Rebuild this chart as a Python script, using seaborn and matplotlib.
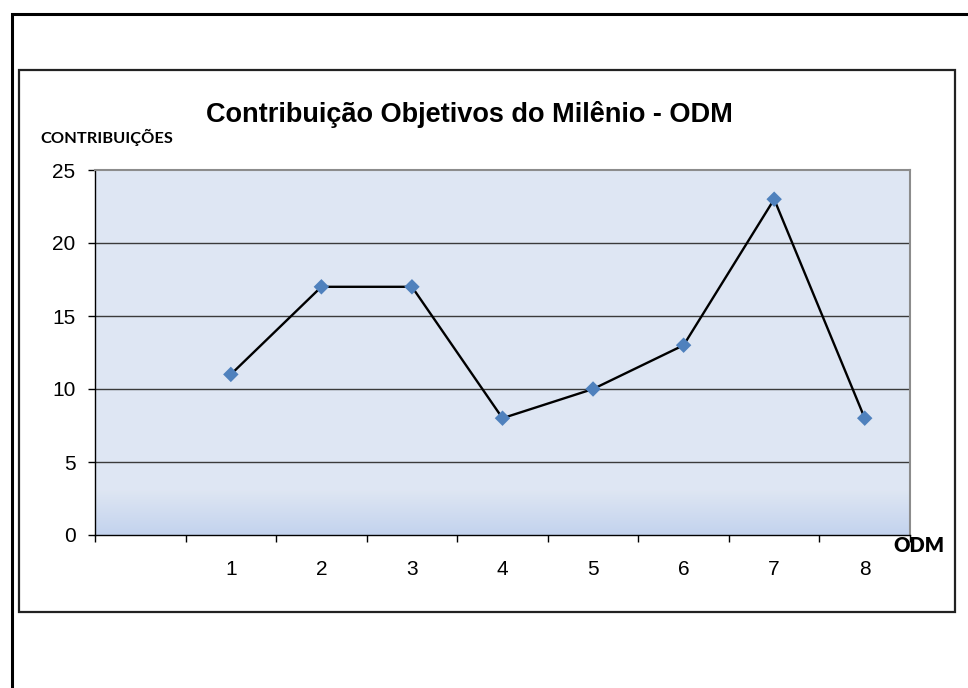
import numpy as np
import pandas as pd
import matplotlib
matplotlib.use("Agg")
import matplotlib.pyplot as plt
from matplotlib.patches import Rectangle
import seaborn as sns

# Data
odm = [1, 2, 3, 4, 5, 6, 7, 8]
contribuicoes = [11, 17, 17, 8, 10, 13, 23, 8]
tick_labels = ["1", "2", "3", "4", "5", "6", "7", "8"]

df = pd.DataFrame({"ODM": odm, "Contribuicoes": contribuicoes})

sns.set_style("white", {"text.color": "black", "xtick.color": "black", "ytick.color": "black",
                        "xtick.bottom": True, "ytick.left": True})
plt.rcParams["font.family"] = ["Liberation Sans", "DejaVu Sans"]

W, H = 968, 688
fig = plt.figure(figsize=(W / 100, H / 100), dpi=100)

# outer and inner frames
fig.patches.append(Rectangle((12 / W, -0.1), 2, 1 - 14 / H + 0.1, transform=fig.transFigure,
                             fill=False, edgecolor="black", linewidth=2.2))
fig.patches.append(Rectangle((19 / W, 1 - 612 / H), (955 - 19) / W, (612 - 70) / H,
                             transform=fig.transFigure, fill=False, edgecolor="#222222", linewidth=1.6))

ax = fig.add_axes([95 / W, 1 - 535 / H, (910 - 95) / W, (535 - 170) / H])

# gradient background
grad = np.ones((200, 1, 3))
top = np.array([0.871, 0.902, 0.953])
bottom = np.array([0.765, 0.827, 0.933])
yy = np.linspace(25, 0, 200)
t = np.clip((3.0 - yy) / 3.0, 0, 1)[:, None]
grad[:, 0, :] = top * (1 - t) + bottom * t
ax.imshow(grad, extent=[-0.5, 8.5, 0, 25], aspect="auto", zorder=0)

for v in [5, 10, 15, 20]:
    ax.axhline(v, color="#3a3a3a", linewidth=1.0, zorder=1)

sns.lineplot(data=df, x="ODM", y="Contribuicoes", ax=ax, color="black", linewidth=1.7,
             zorder=3)
sns.scatterplot(data=df, x="ODM", y="Contribuicoes", ax=ax, marker="D", s=62,
                color="#4F81BD", edgecolor="none", zorder=4)

ax.set_xlim(-0.5, 8.5)
ax.set_ylim(0, 25)
ax.set_xticks(odm)
ax.set_xticklabels(tick_labels)
ax.set_xticks(np.arange(-0.5, 9, 1), minor=True)
ax.set_yticks([0, 5, 10, 15, 20, 25])
ax.tick_params(axis="x", which="major", bottom=False, length=0, pad=18, labelsize=15)
ax.tick_params(axis="x", which="minor", bottom=True, length=5, width=1, color="black",
               direction="out")
ax.tick_params(axis="y", left=True, length=5, width=1, color="black", direction="out", pad=9,
               labelsize=15)
ax.set_xlabel("")
ax.set_ylabel("")

for s in ["left", "bottom"]:
    ax.spines[s].set_color("black")
    ax.spines[s].set_linewidth(1.0)
for s in ["top", "right"]:
    ax.spines[s].set_color("#8c8c8c")
    ax.spines[s].set_linewidth(1.5)

fig.text(469 / W, 1 - 115 / H, "Contribuição Objetivos do Milênio - ODM", ha="center", va="center",
         fontsize=19.5, fontweight="bold")
fig.text(40 / W, 1 - 137 / H, "CONTRIBUIÇÕES", ha="left", va="center",
         fontsize=11.8, fontweight="bold", family=["Lato", "DejaVu Sans"])
fig.text(944 / W, 1 - 545 / H, "ODM", ha="right", va="center",
         fontsize=14.5, fontweight="heavy", family=["Lato", "DejaVu Sans"])

fig.savefig("out.png", dpi=100)
